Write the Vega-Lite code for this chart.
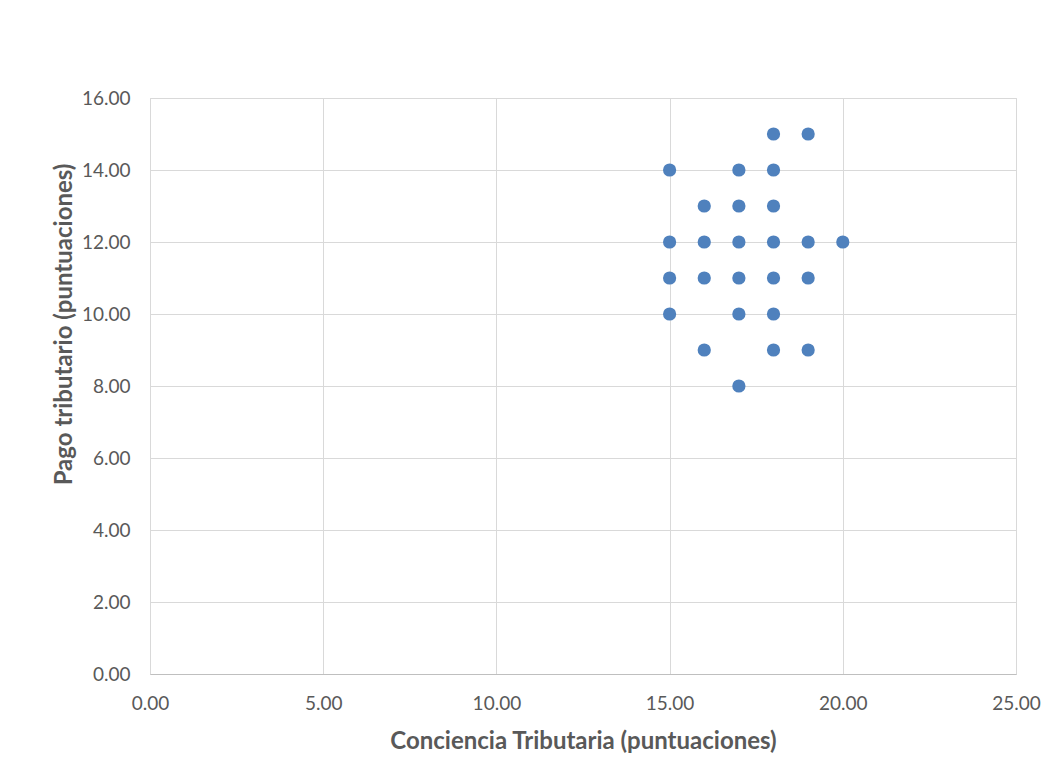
{
  "$schema": "https://vega.github.io/schema/vega-lite/v6.json",
  "width": 866,
  "height": 576,
  "autosize": {"type": "none"},
  "padding": {"left": 150, "top": 98, "right": 46, "bottom": 108},
  "background": "white",
  "config": {
    "font": "Lato",
    "view": {"stroke": "#d9d9d9", "strokeWidth": 1}
  },
  "data": {
    "values": [
      {"conciencia": 15, "pago": 14},
      {"conciencia": 15, "pago": 12},
      {"conciencia": 15, "pago": 11},
      {"conciencia": 15, "pago": 10},
      {"conciencia": 16, "pago": 13},
      {"conciencia": 16, "pago": 12},
      {"conciencia": 16, "pago": 11},
      {"conciencia": 16, "pago": 9},
      {"conciencia": 17, "pago": 14},
      {"conciencia": 17, "pago": 13},
      {"conciencia": 17, "pago": 12},
      {"conciencia": 17, "pago": 11},
      {"conciencia": 17, "pago": 10},
      {"conciencia": 17, "pago": 8},
      {"conciencia": 18, "pago": 15},
      {"conciencia": 18, "pago": 14},
      {"conciencia": 18, "pago": 13},
      {"conciencia": 18, "pago": 12},
      {"conciencia": 18, "pago": 11},
      {"conciencia": 18, "pago": 10},
      {"conciencia": 18, "pago": 9},
      {"conciencia": 19, "pago": 15},
      {"conciencia": 19, "pago": 12},
      {"conciencia": 19, "pago": 11},
      {"conciencia": 19, "pago": 9},
      {"conciencia": 20, "pago": 12}
    ]
  },
  "mark": {"type": "circle", "size": 175, "color": "#4f81bd", "opacity": 1},
  "encoding": {
    "x": {
      "field": "conciencia",
      "type": "quantitative",
      "scale": {"domain": [0, 25], "nice": false, "zero": true},
      "axis": {
        "title": "Conciencia Tributaria (puntuaciones)",
        "values": [0, 5, 10, 15, 20, 25],
        "format": ".2f",
        "labelFlush": false,
        "labelOverlap": false,
        "grid": true,
        "gridColor": "#d9d9d9",
        "gridWidth": 1,
        "domain": true,
        "domainColor": "#bfbfbf",
        "domainWidth": 1,
        "ticks": false,
        "labelPadding": 20,
        "labelFontSize": 19,
        "labelColor": "#595959",
        "labelFont": "Lato",
        "titleFont": "Lato",
        "titleFontSize": 24,
        "titleFontWeight": "bold",
        "titleColor": "#595959",
        "titlePadding": 16
      }
    },
    "y": {
      "field": "pago",
      "type": "quantitative",
      "scale": {"domain": [0, 16], "nice": false, "zero": true},
      "axis": {
        "title": "Pago tributario (puntuaciones)",
        "values": [0, 2, 4, 6, 8, 10, 12, 14, 16],
        "format": ".2f",
        "labelFlush": false,
        "labelOverlap": false,
        "grid": true,
        "gridColor": "#d9d9d9",
        "gridWidth": 1,
        "domain": false,
        "ticks": false,
        "labelPadding": 20,
        "labelFontSize": 19,
        "labelColor": "#595959",
        "labelFont": "Lato",
        "titleFont": "Lato",
        "titleFontSize": 24,
        "titleFontWeight": "bold",
        "titleColor": "#595959",
        "titleAngle": -90,
        "titleAlign": "center",
        "titleBaseline": "middle",
        "titleX": -86,
        "titleY": 226
      }
    }
  }
}
